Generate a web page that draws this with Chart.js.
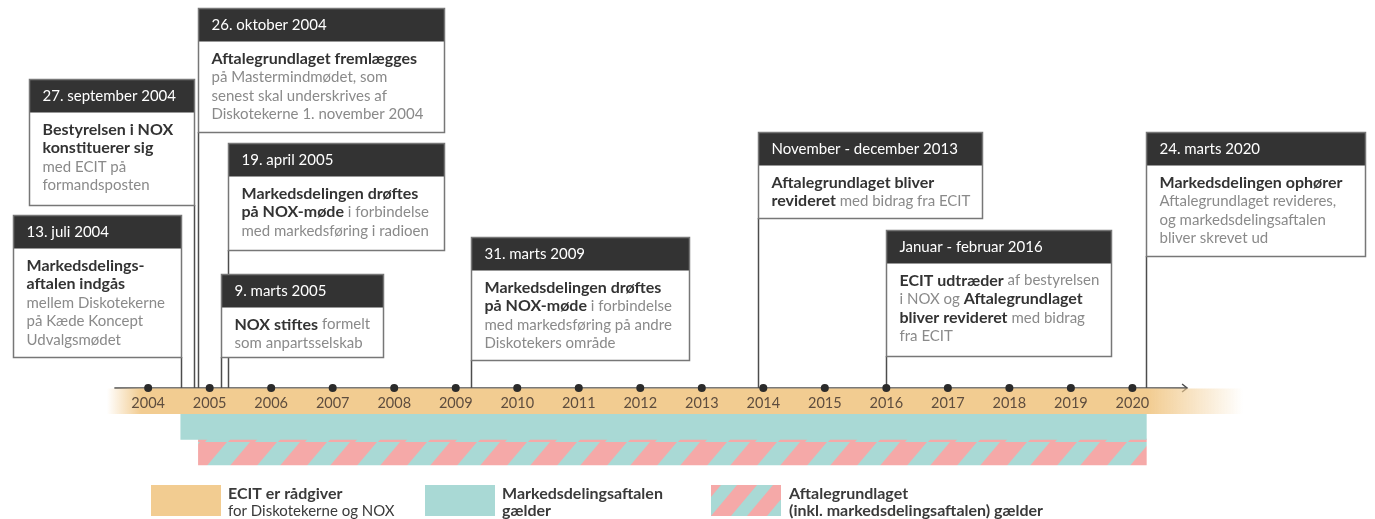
<!DOCTYPE html>
<html><head><meta charset="utf-8">
<script src="https://cdn.jsdelivr.net/npm/chart.js@4.4.1/dist/chart.umd.min.js"></script>
<style>html,body{margin:0;padding:0;background:#fff;overflow:hidden}#wrap{position:relative;width:1375px;height:519px}canvas{display:block}</style>
</head><body><div id="wrap"><canvas id="c" width="1375" height="519"></canvas></div>
<script>
// ---------- DATA ----------
const years = [2004,2005,2006,2007,2008,2009,2010,2011,2012,2013,2014,2015,2016,2017,2018,2019,2020];
const yearLabels = ['2004','2005','2006','2007','2008','2009','2010','2011','2012','2013','2014','2015','2016','2017','2018','2019','2020'];

const eventDates = ['2004-07-13','2004-09-27','2004-10-26','2005-04-19','2005-03-09','2009-03-31','2013-12-01','2016-01-01','2020-03-24'];
const eventTitles = ['13. juli 2004','27. september 2004','26. oktober 2004','19. april 2005','9. marts 2005','31. marts 2009','November - december 2013','Januar - februar 2016','24. marts 2020'];
const eventTexts = [
  ['**Markedsdelings-','**aftalen indgås','mellem Diskotekerne','på Kæde Koncept','Udvalgsmødet'],
  ['**Bestyrelsen i NOX','**konstituerer sig','med ECIT på','formandsposten'],
  ['**Aftalegrundlaget fremlægges','på Mastermindmødet, som','senest skal underskrives af','Diskotekerne 1. november 2004'],
  ['**Markedsdelingen drøftes','**på NOX-møde** i forbindelse','med markedsføring i radioen'],
  ['**NOX stiftes** formelt','som anpartsselskab'],
  ['**Markedsdelingen drøftes','**på NOX-møde** i forbindelse','med markedsføring på andre','Diskotekers område'],
  ['**Aftalegrundlaget bliver','**revideret** med bidrag fra ECIT'],
  ['**ECIT udtræder** af bestyrelsen','i NOX og **Aftalegrundlaget','**bliver revideret** med bidrag','fra ECIT'],
  ['**Markedsdelingen ophører','Aftalegrundlaget revideres,','og markedsdelingsaftalen','bliver skrevet ud']
];

const bandNames = ['ECIT er rådgiver','Markedsdelingsaftalen gælder','Aftalegrundlaget (inkl. markedsdelingsaftalen) gælder'];
const bandStarts = ['2003-05-01','2004-07-13','2004-10-26'];
const bandEnds = ['2021-10-20','2020-03-24','2020-03-24'];

const legendTitles = ['ECIT er rådgiver','Markedsdelingsaftalen','Aftalegrundlaget'];
const legendSubs = ['for Diskotekerne og NOX','gælder','(inkl. markedsdelingsaftalen) gælder'];
const legendSubBold = [false,true,true];

// ---------- LAYOUT / STYLE ----------
const PX_PER_YEAR = 61.875;
const X_MIN = 2004 - 145/PX_PER_YEAR;
const X_MAX = X_MIN + 1375/PX_PER_YEAR;
const AXIS_Y = 390;
const AXIS_START = 2004 - 34/PX_PER_YEAR;
const AXIS_END = 2004 + 1045/PX_PER_YEAR;
const bandRowY = [403.5, 429, 455];
const bandThick = [25, 26, 26];
const ORANGE = '#F2CC91', TEAL = '#A9D9D5', PINK = '#F5A9A8';
const boxLayout = [
  {anchor:'right', w:168, top:215, h:142},
  {anchor:'right', w:165, top:79,  h:126},
  {anchor:'left',  w:246, top:8,   h:124},
  {anchor:'left',  w:216, top:143, h:107},
  {anchor:'left',  w:162, top:274, h:83},
  {anchor:'left',  w:218, top:237, h:123},
  {anchor:'left',  w:224, top:132, h:86},
  {anchor:'left',  w:225, top:230, h:126},
  {anchor:'left',  w:219, top:132, h:124}
];
const legendLayout = [
  {sx:151, tx:228},
  {sx:425, tx:502},
  {sx:711, tx:789}
];
const FONT = 'Lato, "Open Sans", sans-serif';
const BOLD_SIZE = 16, REG_SIZE = 15;

function dec(s){
  const [y,m,d] = s.split('-').map(Number);
  const a = Date.UTC(y,0,1), b = Date.UTC(y+1,0,1);
  return y + (Date.UTC(y,m-1,d) - a)/(b - a);
}

function makeStripePattern(){
  const t = document.createElement('canvas');
  t.width = 50; t.height = 26;
  const g = t.getContext('2d');
  g.fillStyle = TEAL; g.fillRect(0,0,50,26);
  g.fillStyle = PINK;
  for (const c of [-50,0,50,100]) {
    g.beginPath();
    g.moveTo(c,0); g.lineTo(c+27,0); g.lineTo(c+27-22,26); g.lineTo(c-22,26); g.closePath(); g.fill();
  }
  return g.createPattern(t,'repeat');
}

function drawRich(c, line, x, y, boldColor, regColor){
  const parts = line.split('**');
  let bold = false;
  let cx = x;
  parts.forEach((p,i)=>{
    if (i>0) bold = !bold;
    if (!p) return;
    c.font = bold ? ('bold ' + BOLD_SIZE + 'px ' + FONT) : (REG_SIZE + 'px ' + FONT);
    c.fillStyle = bold ? boldColor : regColor;
    c.fillText(p, cx, y);
    cx += c.measureText(p).width;
  });
}

const timelinePlugin = {
  id: 'timeline',
  beforeDatasetsDraw(chart){
    const c = chart.ctx, x = chart.scales.x, y = chart.scales.y;
    const ay = y.getPixelForValue(AXIS_Y);
    const x0 = x.getPixelForValue(AXIS_START), x1 = x.getPixelForValue(AXIS_END);
    c.save();
    c.strokeStyle = '#4d4d4d'; c.lineWidth = 1.5;
    c.beginPath(); c.moveTo(x0, ay); c.lineTo(x1, ay); c.stroke();
    c.beginPath(); c.moveTo(x1-5, ay-4); c.lineTo(x1, ay); c.lineTo(x1-5, ay+4); c.stroke();
    eventDates.forEach((d,i)=>{
      const L = boxLayout[i];
      const ex = Math.round(x.getPixelForValue(dec(d))) + 0.5;
      c.beginPath(); c.moveTo(ex, L.top + L.h); c.lineTo(ex, ay); c.stroke();
    });
    c.restore();
  },
  afterDatasetsDraw(chart){
    const c = chart.ctx, x = chart.scales.x, y = chart.scales.y;
    c.save();
    c.font = '14.5px ' + FONT; c.fillStyle = '#5e4d3e';
    c.textAlign = 'center'; c.textBaseline = 'middle';
    years.forEach((yr,i)=>{ c.fillText(yearLabels[i], x.getPixelForValue(yr), y.getPixelForValue(405.5)); });
    c.textAlign = 'left';
    eventDates.forEach((d,i)=>{
      const L = boxLayout[i];
      const ex = Math.round(x.getPixelForValue(dec(d))) + 0.5;
      const left = L.anchor === 'left' ? ex : ex - L.w;
      const top = L.top + 0.5;
      c.fillStyle = '#ffffff';
      c.fillRect(left, top, L.w, L.h);
      c.fillStyle = '#333333';
      c.fillRect(left, top, L.w, 33);
      c.strokeStyle = '#777777'; c.lineWidth = 1.5;
      c.strokeRect(left, top, L.w, L.h);
      c.fillStyle = '#ffffff'; c.font = '15px ' + FONT;
      c.fillText(eventTitles[i], left + 13, top + 17);
      eventTexts[i].forEach((line,j)=>{
        drawRich(c, line, left + 13, top + 33 + 17 + j*18.7, '#333333', '#8a8a8a');
      });
    });
    legendLayout.forEach((L,i)=>{
      if (i === 0) { c.fillStyle = ORANGE; c.fillRect(L.sx, 485, 70, 31); }
      else if (i === 1) { c.fillStyle = TEAL; c.fillRect(L.sx, 485, 70, 31); }
      else {
        c.save(); c.beginPath(); c.rect(L.sx, 485, 70, 31); c.clip();
        c.fillStyle = TEAL; c.fillRect(L.sx, 485, 70, 31);
        c.fillStyle = PINK;
        for (let k=-2;k<4;k++){
          const s = L.sx + k*36;
          c.beginPath(); c.moveTo(s+26,485); c.lineTo(s+46,485); c.lineTo(s+20,516); c.lineTo(s,516); c.closePath(); c.fill();
        }
        c.restore();
      }
      drawRich(c, '**' + legendTitles[i], L.tx, 494, '#3a3a3a', '#3a3a3a');
      drawRich(c, (legendSubBold[i] ? '**' : '') + legendSubs[i], L.tx, 511, '#3a3a3a', '#3a3a3a');
    });
    c.restore();
  }
};

function build(){
  const stripe = makeStripePattern();
  const bandColors = [
    (ctx)=>{
      const ch = ctx.chart, x = ch.scales.x;
      if (!ch.chartArea || !x) return ORANGE;
      const a = x.getPixelForValue(dec(bandStarts[0])), b = x.getPixelForValue(dec(bandEnds[0]));
      const g = ch.ctx.createLinearGradient(a,0,b,0);
      const w = b - a;
      g.addColorStop(0, 'rgba(242,204,145,0)');
      g.addColorStop(34/w, 'rgba(242,204,145,1)');
      g.addColorStop(1 - 95/w, 'rgba(242,204,145,1)');
      g.addColorStop(1, 'rgba(242,204,145,0)');
      return g;
    },
    TEAL,
    stripe
  ];
  const datasets = bandNames.map((n,i)=>({
    type:'bar', label:n, indexAxis:'y', grouped:false, order:2,
    data:[{y: bandRowY[i], x:[dec(bandStarts[i]), dec(bandEnds[i])]}],
    backgroundColor: bandColors[i], borderWidth:0, barThickness: bandThick[i]
  }));
  datasets.push({
    type:'scatter', label:'År', order:0,
    data: years.map(yr=>({x:yr, y:AXIS_Y})),
    pointRadius:4, pointBackgroundColor:'#2b2b2b', pointBorderWidth:0, showLine:false
  });
  new Chart(document.getElementById('c'), {
    type:'bar',
    data:{datasets},
    options:{
      responsive:false, animation:false, events:[],
      layout:{padding:0},
      plugins:{legend:{display:false}, tooltip:{enabled:false}},
      scales:{
        x:{type:'linear', min:X_MIN, max:X_MAX, display:false, offset:false, grace:0, beginAtZero:false},
        y:{type:'linear', min:0, max:519, reverse:true, display:false, offset:false, grace:0, beginAtZero:false}
      }
    },
    plugins:[timelinePlugin]
  });
}
Promise.all([document.fonts.load('15px Lato'), document.fonts.load('bold 16px Lato')]).then(build, build);
</script>
</body></html>
